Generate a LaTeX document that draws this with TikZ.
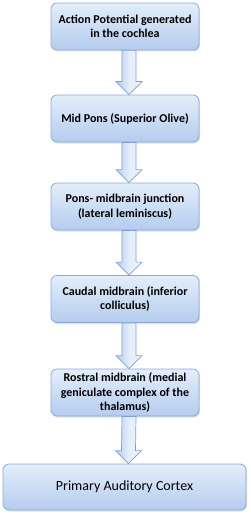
\documentclass[tikz,border=0pt]{standalone}
\usepackage{fontspec}
\setmainfont{Carlito}
\usetikzlibrary{calc,shadows}
\definecolor{boxtop}{HTML}{E4EEFA}
\definecolor{boxbot}{HTML}{B4CCEE}
\definecolor{boxline}{HTML}{8AAAD8}
\definecolor{arrline}{HTML}{7E9FD0}
\begin{document}
\begin{tikzpicture}[x=1pt,y=1pt,
  stagebox/.style={draw=boxline, line width=0.8pt, rounded corners=6pt,
    top color=boxtop, bottom color=boxbot, minimum width=148pt, minimum height=47pt,
    align=center, font=\fontsize{12}{14.5}\selectfont\bfseries, text=black,
    drop shadow={shadow xshift=1pt, shadow yshift=-1.5pt, opacity=0.25}},
  flowarrow/.style={draw=arrline, line width=0.7pt, left color=boxbot, right color=boxtop!70!white, middle color=boxtop}
]
\useasboundingbox (0,0) rectangle (250,-516);
\node[stagebox] (b1) at (125,-26.5) {Action Potential generated\\in the cochlea};
\node[stagebox] (b2) at (125,-118.5) {Mid Pons (Superior Olive)};
\node[stagebox] (b3) at (125,-206.5) {Pons- midbrain junction\\(lateral leminiscus)};
\node[stagebox] (b4) at (125,-299) {Caudal midbrain (inferior\\colliculus)};
\node[stagebox] (b5) at (125,-392.5) {Rostral midbrain (medial\\geniculate complex of the\\thalamus)};
\node[stagebox, minimum width=243pt, minimum height=46pt, font=\fontsize{14}{16}\selectfont] (b6) at (124.5,-487) {Primary Auditory Cortex};
\foreach \a/\b in {b1/b2,b2/b3,b3/b4,b4/b5,b5/b6}{
  \path[flowarrow] ($(\a.south)+(-3,0)$) -- ($(\a.south)+(11,0)$)
     -- ($(\b.north)+(11,13)$) -- ($(\b.north)+(17,13)$) -- ($(\b.north)+(4,0)$)
     -- ($(\b.north)+(-9,13)$) -- ($(\b.north)+(-3,13)$) -- cycle;
}
\end{tikzpicture}
\end{document}
